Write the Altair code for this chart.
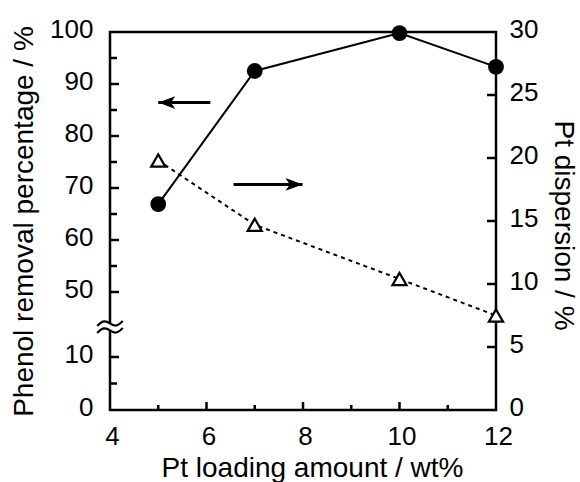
import altair as alt
import pandas as pd

# ---- data ----
pt_loading = [5, 7, 10, 12]                 # wt%
phenol_removal = [66.9, 92.5, 99.8, 93.3]   # % (left axis)
pt_dispersion = [19.8, 14.7, 10.4, 7.5]     # % (right axis)

x_label_values = [4, 6, 8, 10, 12]
x_major_ticks = [6, 8, 10]
x_minor_ticks = [5, 7, 9, 11]
left_label_values = [0, 10, 50, 60, 70, 80, 90, 100]
left_major_ticks = [10, 50, 60, 70, 80, 90]
left_minor_ticks = [5, 55, 65, 75, 85, 95]
left_break_domain = [0, 10, 50, 100]
right_label_values = [0, 5, 10, 15, 20, 25, 30]
right_ticks = [5, 10, 15, 20, 25]

# annotation arrows (x in wt%, y on right axis)
arrow_y = [24.4, 17.9]
arrow_tip = [5.0, 7.99]
arrow_tail = [6.08, 6.56]
arrow_dir = ["left", "right"]

break_at = [28.5]

W, H = 386, 378
FONT = "Liberation Sans"

xs = alt.Scale(domain=[4, 12], nice=False, zero=False)
ly = alt.Scale(domain=left_break_domain, range=[H, H - 53, H - 118, 0], nice=False, zero=False)
ry = alt.Scale(domain=[0, 30], nice=False, zero=False)

df = pd.DataFrame({"x": pt_loading, "phenol": phenol_removal, "disp": pt_dispersion})

common = dict(ticks=False, domain=False, grid=False, labelFlush=False, labelOverlap=False,
              labelFontSize=26, titleFontSize=28, titleFontWeight="normal",
              labelColor="black", titleColor="black", labelFont=FONT, titleFont=FONT, format="d")
x_axis = alt.Axis(values=x_label_values, title="Pt loading amount / wt%",
                  labelPadding=13, labelOffset=2, titleX=202, titleY=44, **common)
left_axis = alt.Axis(values=left_label_values, title="Phenol removal percentage / %", orient="left",
                     labelPadding=17, labelOffset=-3, titleX=-72, titleY=H / 2, **common)
right_axis = alt.Axis(values=right_label_values, title="Pt dispersion / %", orient="right",
                      labelPadding=13, labelOffset=-3, titleX=52, titleY=H / 2 + 4, **common)


def X(field, **kw):
    return alt.X(field, scale=xs, axis=x_axis, **kw)


def YL(field):
    return alt.Y(field, scale=ly, axis=left_axis)


def YR(field):
    return alt.Y(field, scale=ry, axis=right_axis)


# ---- left (phenol removal) layers ----
phenol_line = alt.Chart(df).mark_line(color="black", strokeWidth=2).encode(x=X("x:Q"), y=YL("phenol:Q"))
phenol_pts = alt.Chart(df).mark_point(shape="circle", filled=True, color="black", size=250, opacity=1).encode(
    x=X("x:Q"), y=YL("phenol:Q"))
lt_major = alt.Chart(pd.DataFrame({"v": left_major_ticks})).mark_rule(color="black", strokeWidth=2.5).encode(
    y=YL("v:Q"), x=alt.value(0), x2=alt.value(9))
lt_minor = alt.Chart(pd.DataFrame({"v": left_minor_ticks})).mark_rule(color="black", strokeWidth=2.5).encode(
    y=YL("v:Q"), x=alt.value(0), x2=alt.value(7))
xt_major = alt.Chart(pd.DataFrame({"v": x_major_ticks})).mark_rule(color="black", strokeWidth=2.5).encode(
    x=X("v:Q"), y=alt.value(H), y2=alt.value(H - 8))
xt_minor = alt.Chart(pd.DataFrame({"v": x_minor_ticks})).mark_rule(color="black", strokeWidth=2.5).encode(
    x=X("v:Q"), y=alt.value(H), y2=alt.value(H - 5))

brk = pd.DataFrame({"b": break_at})
brk_cut = alt.Chart(brk).mark_rule(color="white", strokeWidth=7).encode(
    x=alt.value(-2), x2=alt.value(2), y=YL("b:Q"))
wave = "M-1,0.2 C-0.6,-0.25 -0.35,-0.25 0,0 C0.35,0.25 0.6,0.25 1,-0.2"
brk_up = alt.Chart(brk).mark_point(shape=wave, filled=False, color="black", strokeWidth=2.2,
                                   size=650, opacity=1, yOffset=-3.5).encode(x=alt.value(0), y=YL("b:Q"))
brk_dn = alt.Chart(brk).mark_point(shape=wave, filled=False, color="black", strokeWidth=2.2,
                                   size=650, opacity=1, yOffset=3.5).encode(x=alt.value(0), y=YL("b:Q"))

left_group = alt.layer(phenol_line, lt_major, lt_minor, xt_major, xt_minor,
                       brk_cut, brk_up, brk_dn, phenol_pts)

# ---- right (Pt dispersion) layers ----
disp_line = alt.Chart(df).mark_line(color="black", strokeWidth=2, strokeDash=[4, 4]).encode(
    x=X("x:Q"), y=YR("disp:Q"))
disp_pts = alt.Chart(df).mark_point(shape="triangle-up", filled=True, fill="white", stroke="black",
                                    strokeWidth=2.2, size=200, opacity=1).encode(x=X("x:Q"), y=YR("disp:Q"))
rt = alt.Chart(pd.DataFrame({"v": right_ticks})).mark_rule(color="black", strokeWidth=2.5).encode(
    y=YR("v:Q"), x=alt.value(W), x2=alt.value(W - 9))

arr = pd.DataFrame({"y": arrow_y, "tip": arrow_tip, "tail": arrow_tail, "dir": arrow_dir})
arrow_shaft = alt.Chart(arr).mark_rule(color="black", strokeWidth=3).encode(
    x=X("tip:Q"), x2="tail:Q", y=YR("y:Q"))
head_left = alt.Chart(arr).transform_filter(alt.datum.dir == "left").mark_point(
    shape="M0,0 L2,-0.75 L1.5,0 L2,0.75 Z", filled=True, color="black", size=289, opacity=1).encode(
    x=X("tip:Q"), y=YR("y:Q"))
head_right = alt.Chart(arr).transform_filter(alt.datum.dir == "right").mark_point(
    shape="M0,0 L-2,-0.75 L-1.5,0 L-2,0.75 Z", filled=True, color="black", size=289, opacity=1).encode(
    x=X("tip:Q"), y=YR("y:Q"))

right_group = alt.layer(disp_line, rt, arrow_shaft, head_left, head_right, disp_pts)

chart = alt.layer(left_group, right_group).resolve_scale(y="independent").properties(
    width=W, height=H,
    autosize=alt.AutoSizeParams(type="none"),
    padding={"left": 110, "top": 32, "right": 84, "bottom": 72},
    background="white",
).configure_view(stroke="black", strokeWidth=2.5)

chart.save("out.html", embed_options={"renderer": "svg", "actions": False})
